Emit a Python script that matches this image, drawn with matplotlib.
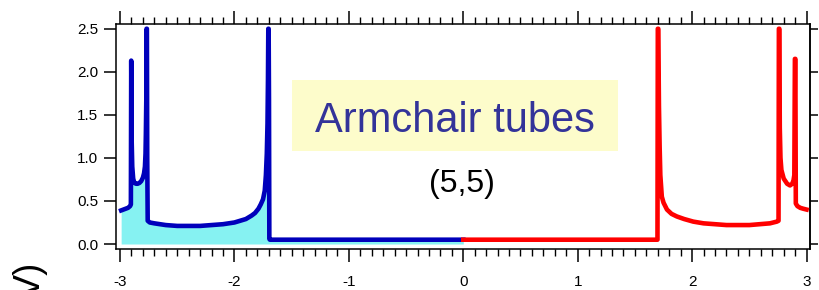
import matplotlib
matplotlib.use("Agg")
import matplotlib.pyplot as plt
from matplotlib.patches import Rectangle
from matplotlib.ticker import MultipleLocator

plt.rcParams['font.family'] = ['Liberation Sans', 'DejaVu Sans']

# Occupied (valence) states, E < 0  (blue)
val_energy = [-2.99, -2.97, -2.95, -2.93, -2.912, -2.905, -2.902, -2.898, -2.893,
              -2.885, -2.875, -2.86, -2.845, -2.83, -2.815, -2.80, -2.79, -2.782,
              -2.777, -2.774, -2.770, -2.768, -2.765, -2.762, -2.758, -2.74, -2.70,
              -2.65, -2.60, -2.50, -2.40, -2.30, -2.20, -2.10, -2.00, -1.95, -1.90,
              -1.85, -1.82, -1.79, -1.77, -1.75, -1.735, -1.725, -1.717, -1.711,
              -1.707, -1.704, -1.701, -1.698, -1.695, -1.69, -1.0, 0.0]
val_dos = [0.39, 0.40, 0.41, 0.42, 0.44, 0.46, 2.13, 1.20, 0.90,
           0.76, 0.71, 0.70, 0.70, 0.71, 0.73, 0.77, 0.82, 0.90,
           1.05, 1.28, 1.70, 2.50, 2.50, 1.00, 0.27, 0.25, 0.24,
           0.23, 0.22, 0.21, 0.21, 0.21, 0.22, 0.23, 0.25, 0.27, 0.29,
           0.33, 0.36, 0.41, 0.46, 0.52, 0.62, 0.80, 1.05, 1.40,
           1.90, 2.50, 2.50, 1.68, 0.06, 0.05, 0.05, 0.05]

# Empty (conduction) states, E > 0  (red)
con_energy = [0.0, 1.0, 1.697, 1.700, 1.704, 1.710, 1.716, 1.722, 1.735, 1.75,
              1.78, 1.82, 1.866, 1.93, 2.01, 2.10, 2.20, 2.30, 2.40, 2.50, 2.59,
              2.68, 2.74, 2.755, 2.758, 2.762, 2.766, 2.772, 2.78, 2.80, 2.83,
              2.855, 2.875, 2.886, 2.893, 2.898, 2.902, 2.906, 2.92, 2.945, 2.97, 3.0]
con_dos = [0.05, 0.05, 0.05, 2.50, 2.50, 1.60, 1.13, 0.80, 0.55, 0.48,
           0.40, 0.35, 0.32, 0.29, 0.26, 0.24, 0.23, 0.22, 0.22, 0.22, 0.23,
           0.24, 0.26, 0.27, 2.50, 2.50, 1.35, 1.00, 0.86, 0.76, 0.70,
           0.68, 0.70, 0.74, 0.80, 2.15, 2.15, 0.47, 0.44, 0.42, 0.41, 0.40]

y_ticks = [0.0, 0.5, 1.0, 1.5, 2.0, 2.5]
y_ticklabels = ["0.0", "0.5", "1.0", "1.5", "2.0", "2.5"]
x_ticks = [-3, -2, -1, 0, 1, 2, 3]
x_ticklabels = ["-3", "-2", "-1", "0", "1", "2", "3"]

W, H = 819, 290
fig = plt.figure(figsize=(W / 100, H / 100), dpi=100)
ax = fig.add_axes([116 / W, (H - 249) / H, 694 / W, 225 / H])

ax.fill_between(val_energy, val_dos, 0, color='#86f2f2', lw=0, zorder=1)
ax.plot(val_energy, val_dos, color='#0000bb', lw=3.3, solid_joinstyle='round', zorder=3)
ax.plot(con_energy, con_dos, color='#ff0000', lw=3.3, solid_joinstyle='round', zorder=3)

ax.set_xlim(-3.035, 3.03)
ax.set_ylim(-0.058, 2.555)

ax.set_xticks(x_ticks)
ax.set_xticklabels(x_ticklabels)
ax.xaxis.set_minor_locator(MultipleLocator(0.1))
ax.set_yticks(y_ticks)
ax.set_yticklabels(y_ticklabels)

for s in ax.spines.values():
    s.set_linewidth(1.1)

ax.tick_params(axis='x', which='major', direction='out', top=True, bottom=True,
               length=9.4, width=1.1, pad=9, labelsize=11)
ax.tick_params(axis='x', which='minor', direction='out', top=True, bottom=True,
               length=5, width=1.0)
ax.tick_params(axis='y', which='major', direction='out', left=True, right=False,
               length=8.6, width=1.1, pad=4, labelsize=11)

sec = ax.secondary_yaxis('right')
sec.set_yticks(y_ticks)
sec.tick_params(direction='out', length=6, width=1.1, labelright=False)
sec.spines['right'].set_linewidth(1.1)

# Title box
fig.patches.append(Rectangle((292 / W, (H - 151) / H), 326 / W, 71 / H,
                             transform=fig.transFigure, facecolor='#fdfccb',
                             edgecolor='none', zorder=2))
fig.text(455 / W, (H - 132) / H, "Armchair tubes", color='#333399',
         fontsize=30, ha='center', va='baseline', zorder=3)
fig.text(462 / W, (H - 192) / H, "(5,5)", color='black',
         fontsize=23, ha='center', va='baseline')

# Cut-off y label fragment
fig.text(13 / W, (H - 262) / H, "V)", rotation=90, fontsize=26,
         ha='left', va='top', color='black')

fig.savefig("out.png", dpi=100)
